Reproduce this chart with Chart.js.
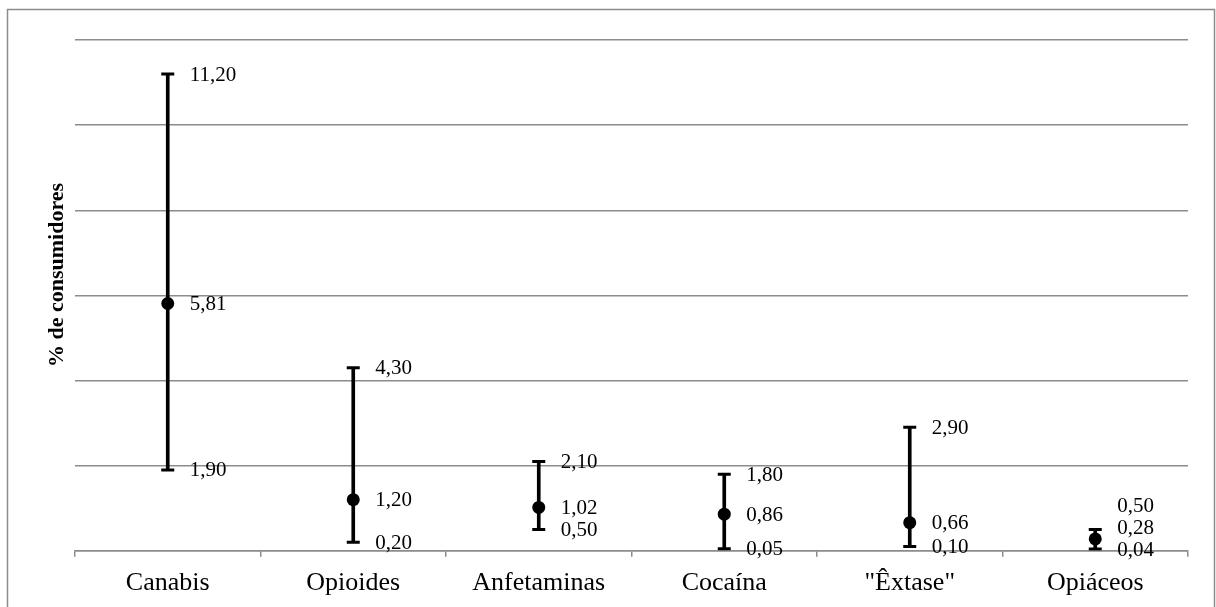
<!DOCTYPE html>
<html>
<head>
<meta charset="utf-8">
<script src="https://cdn.jsdelivr.net/npm/chart.js@4"></script>
<style>
  html, body { margin: 0; padding: 0; background: #fff; overflow: hidden; }
  #wrap { position: relative; width: 1216px; height: 607px; overflow: hidden; }
</style>
</head>
<body>
<div id="wrap"><canvas id="c" width="1216" height="618"></canvas></div>
<script>
const categories = ['Canabis', 'Opioides', 'Anfetaminas', 'Cocaína', '"Êxtase"', 'Opiáceos'];
const meanValues = [5.81, 1.20, 1.02, 0.86, 0.66, 0.28];
const lowValues  = [1.90, 0.20, 0.50, 0.05, 0.10, 0.04];
const highValues = [11.20, 4.30, 2.10, 1.80, 2.90, 0.50];
const yTitle = '% de consumidores';
const yMin = 0, yMax = 12, yStep = 2;

const fmt = v => v.toFixed(2).replace('.', ',');

const framePlugin = {
  id: 'frame',
  beforeDraw(chart) {
    const ctx = chart.ctx;
    ctx.save();
    ctx.fillStyle = '#fff';
    ctx.fillRect(0, 0, chart.width, chart.height);
    ctx.strokeStyle = '#8c8c8c';
    ctx.lineWidth = 1.5;
    ctx.strokeRect(7.5, 9.5, 1207, 620);
    ctx.restore();
  },
  afterDraw(chart) {
    const ctx = chart.ctx;
    ctx.save();
    ctx.translate(57, 275);
    ctx.rotate(-Math.PI / 2);
    ctx.font = 'bold 22px "Liberation Serif", "Times New Roman", serif';
    ctx.fillStyle = '#000';
    ctx.textAlign = 'center';
    ctx.textBaseline = 'middle';
    ctx.fillText(yTitle, 0, 0);
    ctx.restore();
  }
};

const labelPlugin = {
  id: 'valueLabels',
  afterDatasetsDraw(chart) {
    const ctx = chart.ctx;
    const xs = chart.scales.x, ys = chart.scales.y;
    ctx.save();
    ctx.font = '21px "Liberation Serif", "Times New Roman", serif';
    ctx.fillStyle = '#000';
    ctx.textAlign = 'left';
    ctx.textBaseline = 'middle';
    const gap = 22;
    categories.forEach((c, i) => {
      const x = xs.getPixelForValue(i) + 22;
      const vals = [lowValues[i], meanValues[i], highValues[i]];
      let prev = null;
      vals.forEach(v => {
        let y = ys.getPixelForValue(v) + 1;
        if (prev !== null && prev - y < gap) y = prev - gap;
        ctx.fillText(fmt(v), x, y);
        prev = y;
      });
    });
    ctx.restore();
  }
};

new Chart(document.getElementById('c'), {
  type: 'bar',
  data: {
    labels: categories,
    datasets: [
      {
        type: 'bar',
        data: lowValues.map((l, i) => [l, highValues[i]]),
        backgroundColor: '#000',
        borderWidth: 0,
        barThickness: 3,
        order: 3
      },
      {
        type: 'line',
        data: highValues,
        showLine: false,
        pointStyle: 'line',
        pointRadius: 6.5,
        pointBorderWidth: 3,
        pointBorderColor: '#000',
        borderColor: '#000',
        order: 2
      },
      {
        type: 'line',
        data: lowValues,
        showLine: false,
        pointStyle: 'line',
        pointRadius: 6.5,
        pointBorderWidth: 3,
        pointBorderColor: '#000',
        borderColor: '#000',
        order: 2
      },
      {
        type: 'line',
        data: meanValues,
        showLine: false,
        pointStyle: 'circle',
        pointRadius: 6.5,
        pointBackgroundColor: '#000',
        pointBorderColor: '#000',
        pointBorderWidth: 0,
        order: 1
      }
    ]
  },
  options: {
    responsive: false,
    animation: false,
    devicePixelRatio: 1,
    layout: { padding: { left: 75, right: 28, top: 40, bottom: 8 } },
    plugins: { legend: { display: false }, tooltip: { enabled: false }, title: { display: false } },
    scales: {
      x: {
        offset: true,
        grid: { display: true, offset: true, drawOnChartArea: false, drawTicks: true, tickLength: 6, color: '#8c8c8c', lineWidth: 1.5 },
        border: { display: true, color: '#8c8c8c', width: 1.5 },
        ticks: { color: '#000', padding: 11, font: { family: '"Liberation Serif", "Times New Roman", serif', size: 26 }, maxRotation: 0, autoSkip: false }
      },
      y: {
        min: yMin, max: yMax,
        ticks: { display: false, stepSize: yStep },
        grid: { color: '#8c8c8c', lineWidth: 1.5, drawTicks: false },
        border: { display: false }
      }
    }
  },
  plugins: [framePlugin, labelPlugin]
});
</script>
</body>
</html>
